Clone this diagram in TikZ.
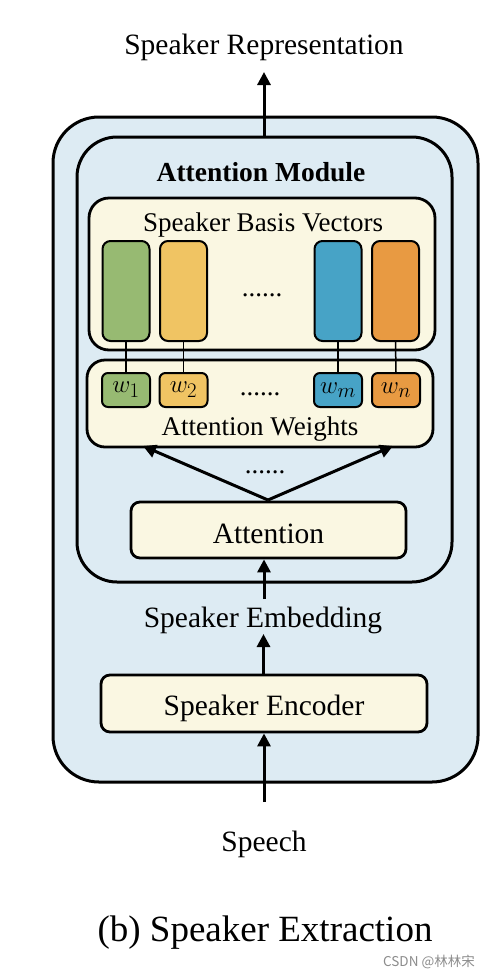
\documentclass[tikz,border=0pt]{standalone}
\usepackage{fontspec}
\setmainfont{Liberation Serif}
\newfontfamily\cjkfont{Noto Sans CJK SC}
\usetikzlibrary{arrows.meta}
\definecolor{outerblue}{HTML}{DDEBF3}
\definecolor{cream}{HTML}{FAF7E2}
\definecolor{vgreen}{HTML}{97BA72}
\definecolor{vyellow}{HTML}{F0C463}
\definecolor{vblue}{HTML}{47A3C6}
\definecolor{vorange}{HTML}{E89A42}
\tikzset{
  bigbox/.style={draw=black, line width=3pt, rounded corners=#1, fill=outerblue, inner sep=0pt},
  creambox/.style={draw=black, line width=2.8pt, rounded corners=#1, fill=cream, inner sep=0pt},
  vecbar/.style={draw=black, line width=2pt, rounded corners=8pt, fill=#1, minimum width=47pt, minimum height=100pt, inner sep=0pt},
  wbox/.style={draw=black, line width=2pt, rounded corners=6pt, fill=#1, minimum width=48pt, minimum height=34pt, inner sep=0pt, font=\fontsize{32}{34}\selectfont},
  lbl/.style={font=\fontsize{29.5}{34}\selectfont, inner sep=0pt},
  slbl/.style={font=\fontsize{27}{31}\selectfont, inner sep=0pt},
  arr/.style={line width=3pt, -{Triangle[length=13pt,width=13pt]}},
  thinline/.style={line width=1.5pt},
}
\begin{document}
\begin{tikzpicture}[x=1pt,y=-1pt]
\useasboundingbox[fill=white] (0,0) rectangle (494,978);
% outer and inner boxes
\node[bigbox=46pt, minimum width=425pt, minimum height=665pt] (outer) at (265.5,449.5) {};
\node[bigbox=40pt, minimum width=375pt, minimum height=445pt] (inner) at (264.5,359.5) {};
\node[font=\bfseries\fontsize{27.5}{31}\selectfont, inner sep=0pt] (amod) at (261,172) {Attention Module};
% basis vectors box
\node[creambox=20pt, minimum width=346pt, minimum height=152pt] (basis) at (262,274) {};
\node[slbl] (basislbl) at (263,225.5) {Speaker Basis Vectors};
\node[vecbar=vgreen] (v1) at (126,291) {};
\node[vecbar=vyellow] (v2) at (183.5,291) {};
\node[vecbar=vblue] (vm) at (338,291) {};
\node[vecbar=vorange] (vn) at (395.5,291) {};
\node[slbl] (vdots) at (262,295) {......};
% attention weights box
\node[creambox=18pt, minimum width=346pt, minimum height=87pt] (weights) at (260,403.5) {};
\node[wbox=vgreen] (w1) at (126,390) {$w_1$};
\node[wbox=vyellow] (w2) at (183.5,390) {$w_2$};
\node[wbox=vblue] (wm) at (338,390) {$w_m$};
\node[wbox=vorange] (wn) at (396,390) {$w_n$};
\node[slbl] (wdots) at (260,394) {......};
\node[slbl] (wlbl) at (260,429.5) {Attention Weights};
\draw[thinline] (v1.south) -- (w1.north);
\draw[thinline] (v2.south) -- (w2.north);
\draw[thinline] (vm.south) -- (wm.north);
\draw[thinline] (vn.south) -- (wn.north);
% attention box
\node[creambox=9pt, minimum width=275pt, minimum height=56pt] (att) at (268.5,530) {};
\node[lbl] (attlbl) at (268.5,534) {Attention};
\coordinate (attop) at (268,500);
\coordinate (wl) at (143,446);
\coordinate (wr) at (393,446);
\draw[arr] (attop) -- (wl);
\draw[arr] (attop) -- (wr);
\node[slbl] (adots) at (265,472) {......};
% speaker embedding
\node[lbl] (emb) at (263,620.5) {Speaker Embedding};
\draw[arr] (264,599) -- (att.south -| 264,0);
% encoder
\node[creambox=9pt, minimum width=326pt, minimum height=57pt] (enc) at (264,703.5) {};
\node[lbl] (enclbl) at (264,708) {Speaker Encoder};
\draw[arr] (enc.north -| 263.5,0) -- (263.5,634);
% speech
\node[lbl] (speech) at (264,844.5) {Speech};
\draw[arr] (264,802) -- (enc.south -| 264,0);
% output
\node[lbl] (rep) at (264,47.5) {Speaker Representation};
\draw[arr] (inner.north -| 264,0) -- (264,72);
% caption
\node[font=\fontsize{37}{42}\selectfont, inner sep=0pt] (cap) at (265,933) {(b) Speaker Extraction};
\node[font=\cjkfont\fontsize{13.5}{15}\selectfont, text=black!45, inner sep=0pt] (wm2) at (429,962) {CSDN @林林宋};
\end{tikzpicture}
\end{document}
